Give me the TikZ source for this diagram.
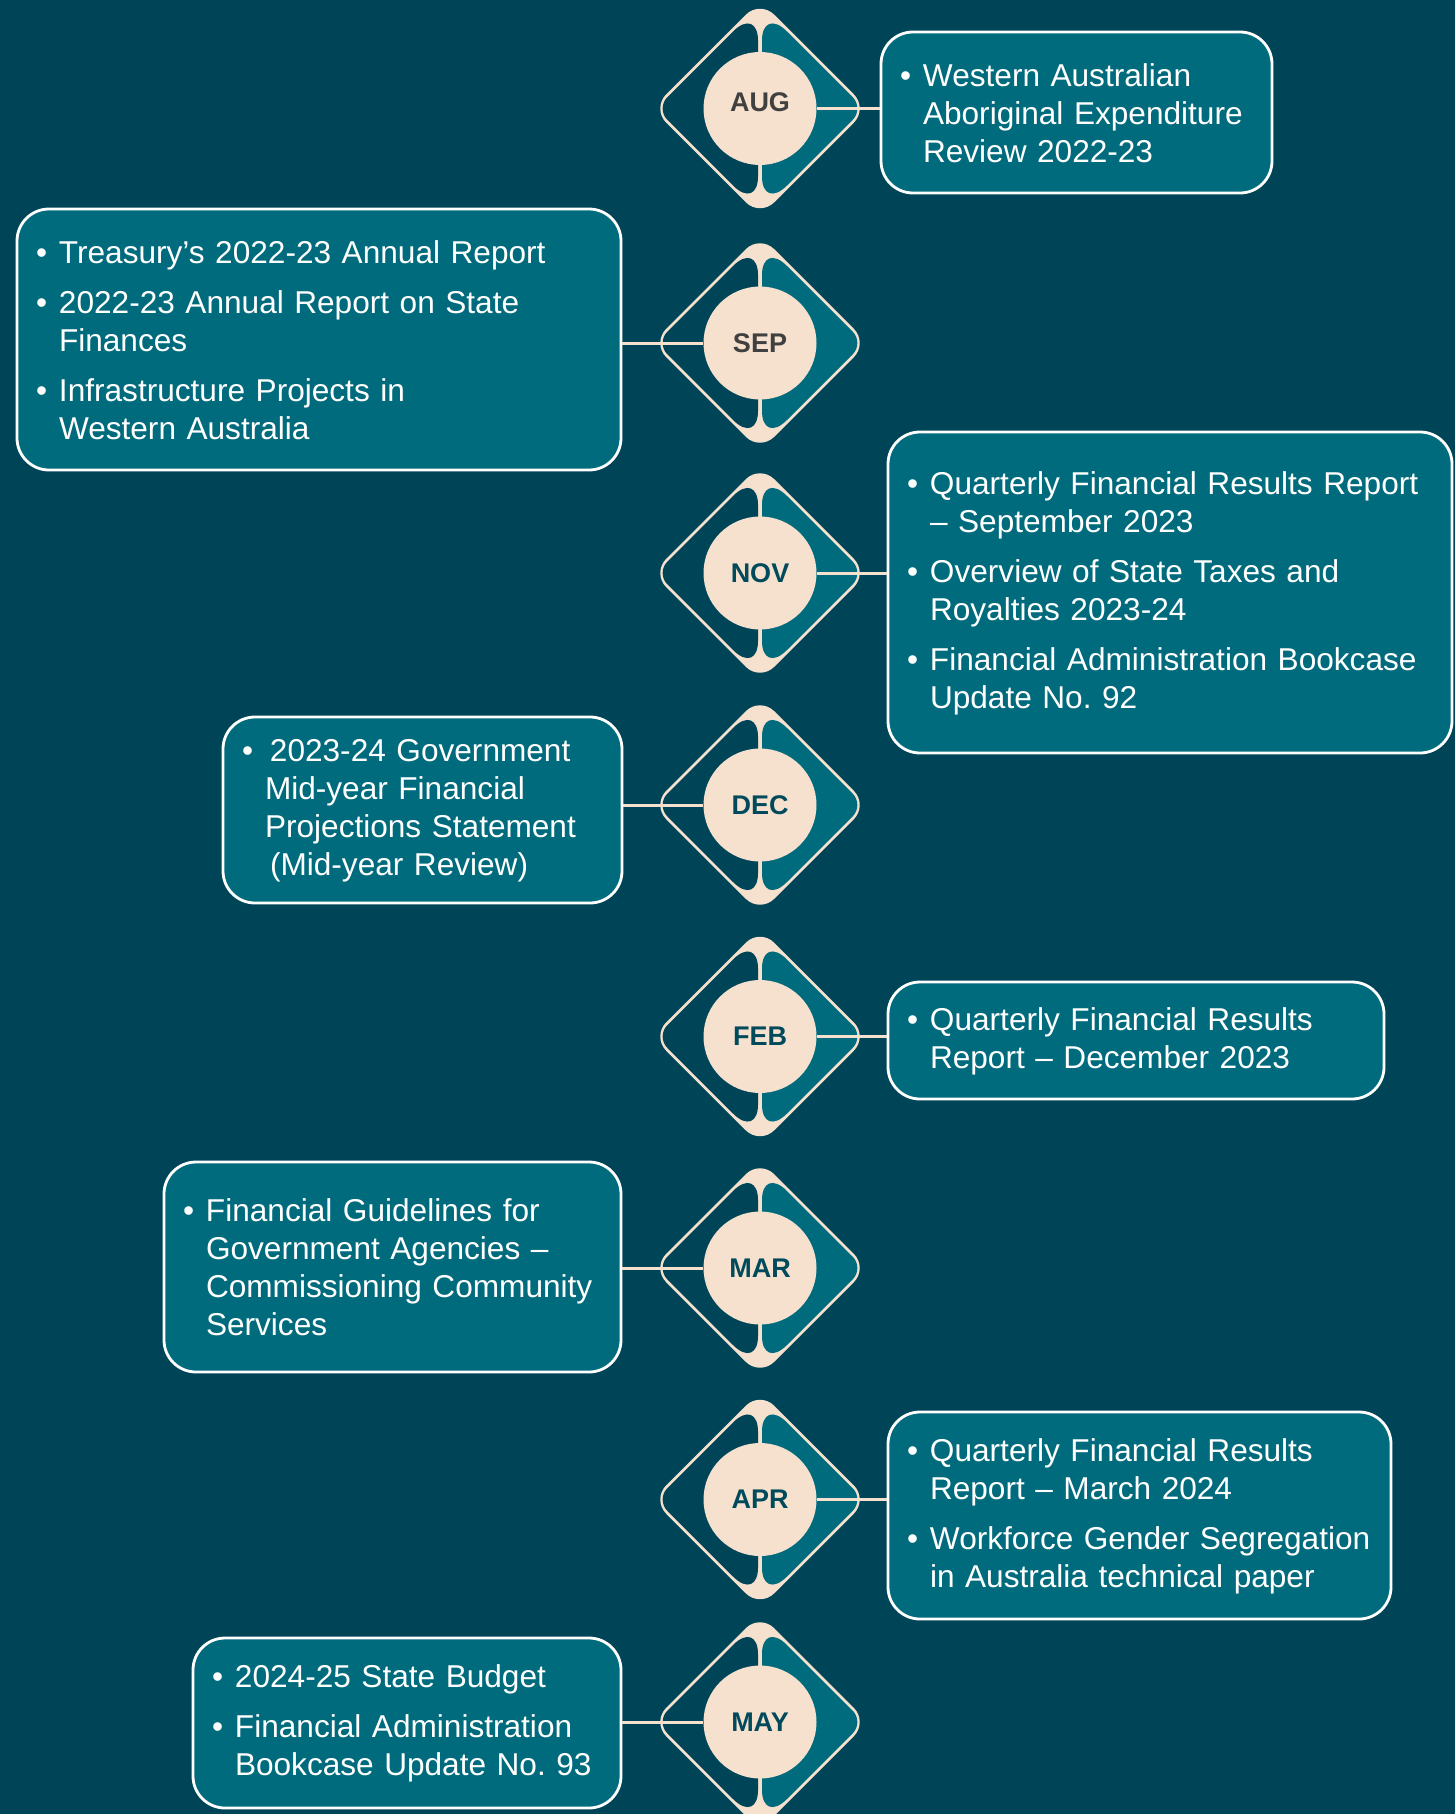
\documentclass[tikz,border=0pt]{standalone}
\usepackage{fontspec}
\setmainfont{Liberation Sans}
\usetikzlibrary{fit}
\definecolor{bg}{RGB}{0,69,87}
\definecolor{tealbox}{RGB}{0,107,125}
\definecolor{cream}{RGB}{246,225,207}
\definecolor{graytxt}{RGB}{64,64,64}
\definecolor{monthtxt}{RGB}{0,74,91}

\newcommand\bul[1]{\par\noindent\hangindent=11.5pt\hangafter=1\makebox[11.5pt][l]{\textbullet}#1\par}
\newcommand\nl{\hfil\break}
\newcommand\bgap{\vspace{6pt}}

\tikzset{
  boxst/.style={draw=white, line width=1.4pt, fill=tealbox, rounded corners=16pt, inner sep=0pt},
  txtst/.style={text=white, inner sep=0pt, anchor=west, yshift=3.5pt, font=\fontsize{15.8pt}{19pt}\selectfont\frenchspacing},
  conn/.style={draw=cream, line width=1.5pt},
  circst/.style={circle, fill=cream, minimum size=56.5pt, inner sep=0pt},
}

% name, y, label, colour, yshift of label
\newcommand\monthdia[5]{%
  \begin{scope}[shift={(760,#2)}]
    \fill[cream, rounded corners=10pt] (0,-108) -- (108,0) -- (0,108) -- (-108,0) -- cycle;
    \fill[bg] (-2,-68) .. controls (-2,-86) and (-13,-91) .. (-27,-77)
      -- (-92.7,-11.3) .. controls (-98.9,-5.1) and (-98.9,5.1) .. (-92.7,11.3)
      -- (-27,77) .. controls (-13,91) and (-2,86) .. (-2,68) -- cycle;
    \fill[tealbox] (2,-68) .. controls (2,-86) and (13,-91) .. (27,-77)
      -- (92.7,-11.3) .. controls (98.9,-5.1) and (98.9,5.1) .. (92.7,11.3)
      -- (27,77) .. controls (13,91) and (2,86) .. (2,68) -- cycle;
  \end{scope}
  \node[circst] (#1) at (760,#2) {};
  \node[text=#4, font=\bfseries\fontsize{13.5pt}{13.5pt}\selectfont, inner sep=0pt, yshift=#5] (#1lab) at (#1.center) {#3};
}

\begin{document}
\begin{tikzpicture}[x=0.5pt, y=-0.5pt]
\useasboundingbox (0,0) rectangle (1455,1814);
\fill[bg] (0,0) rectangle (1455,1814);

\monthdia{aug}{108.5}{AUG}{graytxt}{3pt}
\monthdia{sep}{343}{SEP}{graytxt}{0pt}
\monthdia{nov}{573}{NOV}{monthtxt}{0pt}
\monthdia{dec}{805}{DEC}{monthtxt}{0pt}
\monthdia{feb}{1036.5}{FEB}{monthtxt}{0pt}
\monthdia{mar}{1268}{MAR}{monthtxt}{0pt}
\monthdia{apr}{1499.5}{APR}{monthtxt}{0pt}
\monthdia{may}{1722}{MAY}{monthtxt}{0pt}

% boxes
\node[boxst, fit={(881,32) (1272,193)}] (augbox) {};
\node[boxst, fit={(17,209) (621,470)}] (sepbox) {};
\node[boxst, fit={(888,432) (1452,753)}] (novbox) {};
\node[boxst, fit={(223,717) (622,903)}] (decbox) {};
\node[boxst, fit={(888,982) (1384,1099)}] (febbox) {};
\node[boxst, fit={(164,1162) (621,1372)}] (marbox) {};
\node[boxst, fit={(888,1412) (1391,1619)}] (aprbox) {};
\node[boxst, fit={(193,1638) (621,1808)}] (maybox) {};

% connectors
\draw[conn] (aug.east) -- (aug.east -| augbox.west);
\draw[conn] (sep.west) -- (sep.west -| sepbox.east);
\draw[conn] (nov.east) -- (nov.east -| novbox.west);
\draw[conn] (dec.west) -- (dec.west -| decbox.east);
\draw[conn] (feb.east) -- (feb.east -| febbox.west);
\draw[conn] (mar.west) -- (mar.west -| marbox.east);
\draw[conn] (apr.east) -- (apr.east -| aprbox.west);
\draw[conn] (may.west) -- (may.west -| maybox.east);

% texts
\node[txtst, text width=182pt] (augt) at ([xshift=10pt]augbox.west)
  {\bul{Western Australian\nl Aboriginal Expenditure\nl Review 2022-23}};
\node[txtst, text width=288pt] (sept) at ([xshift=10pt]sepbox.west)
  {\bul{Treasury’s 2022-23 Annual Report}\bgap
   \bul{2022-23 Annual Report on State\nl Finances}\bgap
   \bul{Infrastructure Projects in\nl Western Australia}};
\node[txtst, text width=268pt] (novt) at ([xshift=10pt]novbox.west)
  {\bul{Quarterly Financial Results Report\nl – September 2023}\bgap
   \bul{Overview of State Taxes and\nl Royalties 2023-24}\bgap
   \bul{Financial Administration Bookcase\nl Update No. 92}};
\node[txtst, text width=186pt] (dect) at ([xshift=10pt]decbox.west)
  {\bul{\hspace*{2.5pt}2023-24 Government\nl Mid-year Financial\nl Projections Statement\nl\hspace*{2.5pt}(Mid-year Review)}};
\node[txtst, text width=234pt] (febt) at ([xshift=10pt]febbox.west)
  {\bul{Quarterly Financial Results\nl Report – December 2023}};
\node[txtst, text width=215pt] (mart) at ([xshift=10pt]marbox.west)
  {\bul{Financial Guidelines for\nl Government Agencies –\nl Commissioning Community\nl Services}};
\node[txtst, text width=238pt] (aprt) at ([xshift=10pt]aprbox.west)
  {\bul{Quarterly Financial Results\nl Report – March 2024}\bgap
   \bul{Workforce Gender Segregation\nl in Australia technical paper}};
\node[txtst, text width=200pt] (mayt) at ([xshift=10pt]maybox.west)
  {\bul{2024-25 State Budget}\bgap
   \bul{Financial Administration\nl Bookcase Update No. 93}};
\end{tikzpicture}
\end{document}
